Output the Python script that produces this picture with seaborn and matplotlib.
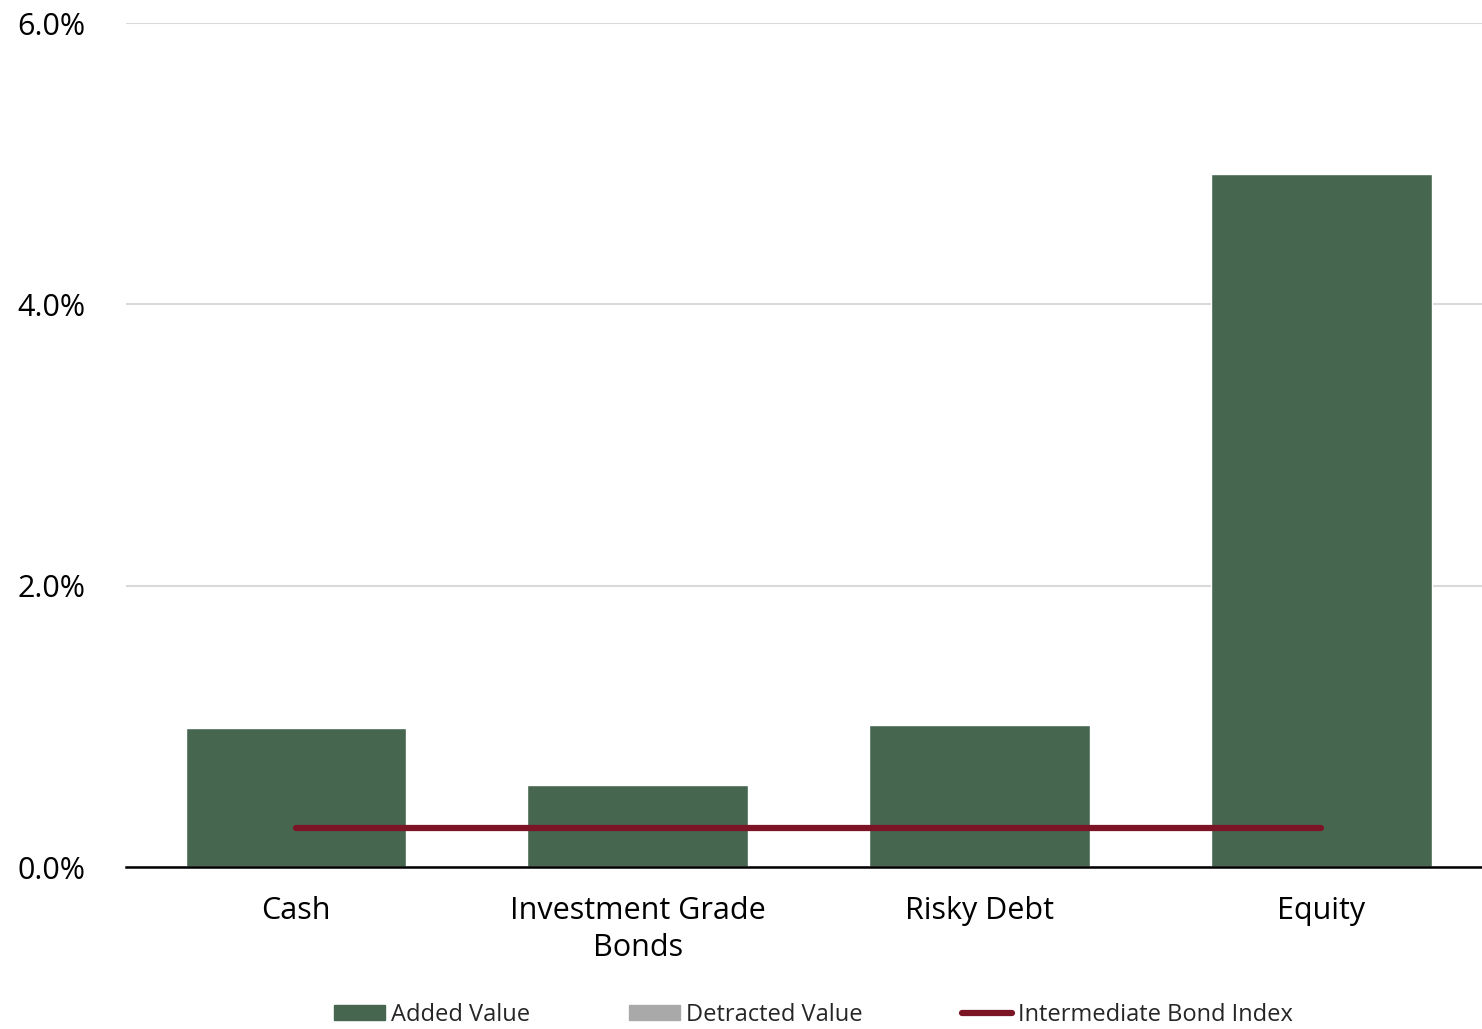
import matplotlib
matplotlib.use("Agg")
import matplotlib.pyplot as plt
import seaborn as sns
import pandas as pd
from matplotlib.patches import Patch
from matplotlib.lines import Line2D
from matplotlib.ticker import FuncFormatter, FixedLocator

categories = ["Cash", "Investment Grade\nBonds", "Risky Debt", "Equity"]
added_value = [0.99, 0.58, 1.01, 4.93]
detracted_value = [0.0, 0.0, 0.0, 0.0]
bond_index = [0.28, 0.28, 0.28, 0.28]
yticks = [0.0, 2.0, 4.0, 6.0]

GREEN = "#476650"
GRAY = "#A9A9A9"
RED = "#7B1425"

sns.set_theme(style="white")
plt.rcParams["font.family"] = ["Open Sans", "DejaVu Sans"]

df = pd.DataFrame({
    "category": categories * 2,
    "value": added_value + detracted_value,
    "series": ["Added Value"] * 4 + ["Detracted Value"] * 4,
})

fig = plt.figure(figsize=(14.82, 10.29), dpi=100)
ax = fig.add_axes([0.085, 0.1574, 0.915, 0.8202])

sns.barplot(data=df, x="category", y="value", hue="series",
            palette={"Added Value": GREEN, "Detracted Value": GRAY},
            dodge=False, width=0.645, ax=ax, legend=False, saturation=1)
ax.plot(range(len(categories)), bond_index, color=RED, lw=4.5,
        solid_capstyle="round", zorder=5)

ax.set_ylim(0, 6.0)
ax.set_xlim(-0.497, 3.47)
ax.yaxis.set_major_locator(FixedLocator(yticks))
ax.yaxis.set_major_formatter(FuncFormatter(lambda v, p: f"{v:.1f}%"))
ax.grid(axis="y", color="#D9D9D9", lw=1.5)
ax.set_axisbelow(True)
for s in ["top", "right", "left"]:
    ax.spines[s].set_visible(False)
ax.spines["bottom"].set_color("black")
ax.spines["bottom"].set_linewidth(1.8)
ax.set_xlabel("")
ax.set_ylabel("")
ax.tick_params(axis="both", length=0, labelsize=22, colors="black")
ax.tick_params(axis="x", pad=21)
ax.tick_params(axis="y", pad=29)
for lab in ax.get_xticklabels():
    lab.set_linespacing(1.3)

handles = [Patch(color=GREEN, label="Added Value"),
           Patch(color=GRAY, label="Detracted Value"),
           Line2D([0], [0], color=RED, lw=4.5, solid_capstyle="round",
                  label="Intermediate Bond Index")]
fig.legend(handles=handles, loc="lower center", bbox_to_anchor=(0.549, -0.019),
           ncol=3, frameon=False, fontsize=17, handlelength=2.15,
           handleheight=0.6, handletextpad=0.25, columnspacing=4.2)

fig.savefig("out.png", dpi=100)
